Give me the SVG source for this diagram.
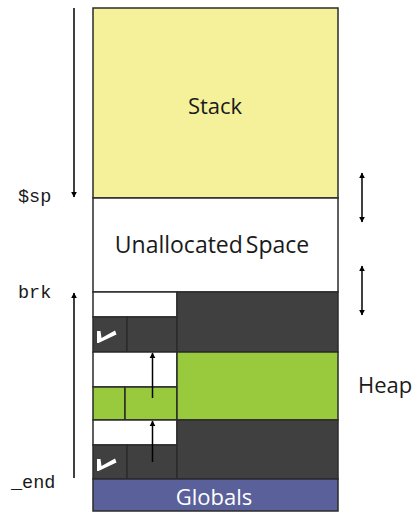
<svg xmlns="http://www.w3.org/2000/svg" width="414" height="516" viewBox="0 0 414 516">
<defs>
<style>
.b{stroke:#2b2b2b;stroke-width:1.5}
.dk{fill:#404040}
.gr{fill:#99c93c}
.wh{fill:#ffffff}
.lbl{font-family:"Open Sans","Liberation Sans",sans-serif;font-size:22px;fill:#1a1a1a}
.mono{font-family:"Liberation Mono",monospace;font-size:18.5px;fill:#1a1a1a}
.ar{stroke:#000;stroke-width:1.5;fill:none}
.tick{fill:#fff}
</style>
<marker id="ah" viewBox="0 0 10 10" refX="9" refY="5" markerWidth="6" markerHeight="8" orient="auto-start-reverse" markerUnits="userSpaceOnUse">
<path d="M0,0 L10,5 L0,10 z" fill="#000"/>
</marker>
</defs>
<g id="stack"><rect x="93" y="8" width="245" height="190" fill="#f5f19a" class="b"/><text x="215" y="114" text-anchor="middle" class="lbl">Stack</text></g>
<g id="unallocated"><rect x="93" y="198" width="245" height="94" class="wh b"/><text x="212" y="253" text-anchor="middle" class="lbl" style="word-spacing:-3px;font-size:23px">Unallocated Space</text></g>
<g id="heap">
<rect x="93" y="292" width="84" height="25" class="wh b"/>
<rect x="93" y="317" width="34" height="35" class="dk b"/>
<rect x="127" y="317" width="50" height="35" class="dk b"/>
<rect x="177" y="292" width="161" height="60" class="dk b"/>
<rect x="93" y="352" width="84" height="35" class="wh b"/>
<rect x="93" y="387" width="32" height="33" class="gr b"/>
<rect x="125" y="387" width="52" height="33" class="gr b"/>
<rect x="177" y="352" width="161" height="68" class="gr b"/>
<rect x="93" y="420" width="84" height="25" class="wh b"/>
<rect x="93" y="445" width="34" height="34" class="dk b"/>
<rect x="127" y="445" width="50" height="34" class="dk b"/>
<rect x="177" y="420" width="161" height="59" class="dk b"/>
<polygon points="97,331 100.5,331 101.5,338 115,330.5 116.5,334.5 98.5,343 97,343" class="tick"/>
<polygon points="97,459 100.5,459 101.5,466 115,458.5 116.5,462.5 98.5,471 97,471" class="tick"/>
<text x="358" y="393" class="lbl">Heap</text>
</g>
<g id="globals"><rect x="93" y="479" width="245" height="32" fill="#5a6099" class="b"/><text x="214" y="505" text-anchor="middle" class="lbl" style="fill:#fff">Globals</text></g>
<g id="labels">
<text x="18" y="202" class="mono">$sp</text>
<text x="18" y="298" class="mono">brk</text>
<text x="11" y="488" class="mono">_end</text>
</g>
<g id="connectors">
<line x1="74" y1="8" x2="74" y2="197" class="ar" marker-end="url(#ah)"/>
<line x1="74" y1="478" x2="74" y2="293" class="ar" marker-end="url(#ah)"/>
<line x1="152.5" y1="398" x2="152.5" y2="353" class="ar" marker-end="url(#ah)"/>
<line x1="152.5" y1="462" x2="152.5" y2="421" class="ar" marker-end="url(#ah)"/>
<line x1="362" y1="173" x2="362" y2="222" class="ar" marker-start="url(#ah)" marker-end="url(#ah)"/>
<line x1="362" y1="266" x2="362" y2="315" class="ar" marker-start="url(#ah)" marker-end="url(#ah)"/>
</g>
</svg>
